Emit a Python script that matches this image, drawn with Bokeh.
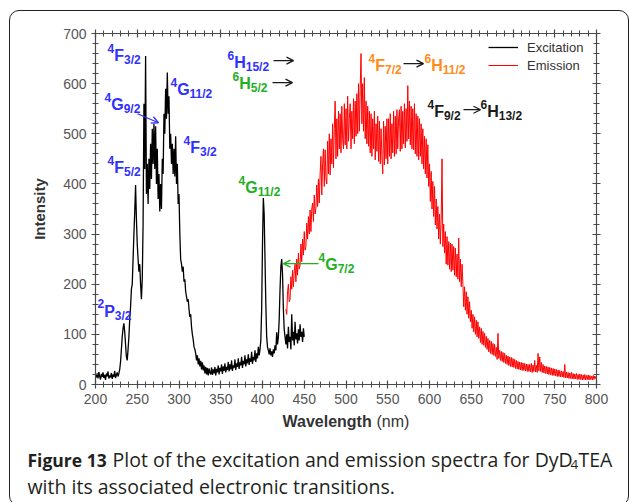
from bokeh.plotting import figure
from bokeh.layouts import column
from bokeh.models import (LinearAxis, Range1d, Label, Arrow, OpenHead, Legend,
                          LegendItem, SingleIntervalTicker, InlineStyleSheet)
from bokeh.core.properties import value
from bokeh.embed import file_html
from bokeh.resources import INLINE
import numpy as np

# ---------------- data ----------------
# Excitation spectrum, 200-450 nm in 1 nm steps
ex_start, ex_step = 200, 1
ex_intensity = [
    20, 14, 22, 12, 25, 16, 10, 21, 15, 24,
    13, 19, 9, 22, 16, 26, 12, 18, 14, 23,
    11, 20, 15, 27, 13, 19, 24, 16, 22, 30,
    45, 70, 95, 112, 122, 105, 80, 55, 48, 70,
    95, 130, 155, 190, 200, 250, 300, 345, 398, 330,
    280, 250, 225, 240, 200, 170, 210, 320, 560, 430,
    655, 380, 440, 360, 450, 390, 480, 410, 510, 440,
    520, 430, 515, 400, 470, 370, 420, 345, 400, 350,
    450, 420, 540, 500, 590, 530, 622, 540, 575, 470,
    500, 440, 480, 420, 470, 415, 495, 400, 440, 360,
    380, 300, 250, 240, 225, 235, 205, 210, 185, 175,
    165, 170, 150, 135, 140, 115, 100, 90, 75, 70,
    62, 48, 58, 40, 52, 36, 47, 30, 44, 28,
    38, 22, 35, 20, 33, 18, 32, 24, 20, 34,
    19, 30, 22, 35, 18, 31, 24, 38, 20, 33,
    26, 40, 21, 36, 27, 42, 24, 35, 29, 45,
    26, 40, 30, 48, 27, 38, 33, 50, 29, 42,
    35, 52, 31, 44, 38, 55, 33, 47, 40, 58,
    36, 50, 42, 60, 39, 52, 45, 65, 41, 55,
    48, 68, 45, 62, 52, 75, 58, 70, 88, 150,
    280, 372, 340, 250, 160, 95, 75, 68, 60, 72,
    58, 66, 55, 70, 62, 78, 68, 104, 80, 95,
    130, 190, 235, 250, 220, 150, 110, 95, 80, 100,
    72, 115, 85, 95, 70, 140, 88, 105, 78, 125,
    90, 102, 82, 110, 88, 120, 95, 105, 85, 112,
    95,
]

# Emission spectrum, 428-800 nm in 1 nm steps
em_start, em_step = 428, 1
em_intensity = [
    150, 140, 185, 200, 165, 170, 215, 190, 228, 195,
    225, 240, 205, 250, 218, 262, 230, 238, 280, 245,
    290, 258, 305, 268, 275, 322, 290, 335, 300, 348,
    305, 350, 362, 325, 378, 340, 352, 398, 355, 410,
    362, 420, 455, 378, 440, 470, 395, 468, 410, 400,
    485, 420, 500, 418, 490, 440, 520, 432, 510, 565,
    450, 530, 455, 545, 470, 540, 462, 555, 490, 470,
    560, 478, 550, 470, 575, 485, 530, 560, 470, 545,
    490, 570, 480, 565, 495, 580, 500, 600, 505, 590,
    660, 520, 600, 505, 612, 490, 565, 480, 555, 475,
    545, 462, 540, 455, 530, 470, 545, 448, 520, 465,
    535, 445, 525, 440, 510, 455, 420, 525, 438, 515,
    450, 530, 440, 530, 455, 540, 450, 520, 462, 545,
    455, 535, 460, 548, 470, 530, 548, 465, 555, 470,
    545, 480, 560, 472, 550, 485, 596, 490, 565, 478,
    555, 470, 550, 468, 560, 460, 540, 455, 535, 448,
    530, 455, 520, 440, 510, 430, 495, 420, 490, 412,
    478, 395, 440, 365, 425, 350, 405, 335, 395, 318,
    370, 310, 355, 290, 340, 280, 330, 450, 275, 320,
    262, 305, 240, 295, 238, 285, 230, 282, 225, 280,
    228, 275, 218, 272, 215, 260, 210, 292, 205, 250,
    195, 240, 200, 155, 195, 148, 185, 140, 175, 132,
    165, 125, 148, 112, 140, 105, 135, 100, 128, 95,
    125, 92, 115, 84, 112, 80, 106, 78, 102, 74,
    96, 70, 92, 65, 88, 62, 86, 60, 82, 58,
    80, 56, 74, 50, 102, 52, 68, 48, 66, 46,
    64, 44, 62, 42, 58, 40, 57, 38, 55, 36,
    54, 35, 52,
    34, 50, 32, 48, 31, 46, 30, 45, 29, 44,
    28, 43, 28, 42, 27, 41, 26, 40, 26,
    40, 25, 42, 24, 39, 26, 48, 25, 38, 24,
    62, 27, 55, 26, 44, 24, 40, 23, 37, 22,
    36, 21, 35, 20, 34, 19, 33, 18, 32, 18,
    31, 17, 30, 16, 29, 16, 28, 15, 27, 15,
    26, 14, 40, 13, 25, 13, 24, 12, 23, 12,
    24, 11, 22, 11, 21, 11, 22, 10, 20, 10,
    21, 10, 20, 9, 19, 10, 20, 9, 18, 10,
    19, 9, 18, 10, 17, 9, 18, 10, 17, 12,
    15,
]

ex_nm = ex_start + ex_step * np.arange(len(ex_intensity))
em_nm = em_start + em_step * np.arange(len(em_intensity))

x_ticks_interval = 50
y_ticks_interval = 100

W, H = 629, 502
CHART_H = 412          # chart part; the caption strip fills the rest
MID = 0.36             # half cap-height as a fraction of the font size

# ---------------- chart ----------------
p = figure(width=W, height=CHART_H, frame_width=501, frame_height=351,
           min_border_left=95, min_border_right=33, min_border_top=33,
           min_border_bottom=CHART_H - 33 - 351,
           x_range=Range1d(200, 800), y_range=Range1d(0, 700),
           output_backend="svg", toolbar_location=None,
           background_fill_color="white", border_fill_color="white")
p.frame_align = False
p.outline_line_color = None
p.xgrid.visible = False
p.ygrid.visible = False

AX_COL = "#4a4a4a"
TICK_FONT = "Liberation Sans"


def style_axis(ax, labels=True):
    ax.axis_line_color = AX_COL
    ax.axis_line_width = 1.2
    ax.major_tick_line_color = AX_COL
    ax.minor_tick_line_color = AX_COL
    ax.major_tick_line_width = 1.2
    ax.minor_tick_line_width = 1.0
    ax.major_tick_in = 4
    ax.major_tick_out = 4
    ax.minor_tick_in = 3
    ax.minor_tick_out = 3
    ax.major_label_text_font = TICK_FONT
    ax.major_label_text_font_size = "14px"
    ax.major_label_text_color = "#555555" if labels else None
    ax.major_label_standoff = 5


p.xaxis.ticker = SingleIntervalTicker(interval=x_ticks_interval, num_minor_ticks=5)
p.yaxis.ticker = SingleIntervalTicker(interval=y_ticks_interval, num_minor_ticks=5)
style_axis(p.xaxis[0])
style_axis(p.yaxis[0])
p.yaxis.axis_label = "Intensity"
p.yaxis.axis_label_text_font = TICK_FONT
p.yaxis.axis_label_text_font_style = "bold"
p.yaxis.axis_label_text_font_size = "15px"
p.yaxis.axis_label_text_color = "#333333"
p.yaxis.axis_label_standoff = 12

top_ax = LinearAxis(ticker=SingleIntervalTicker(interval=x_ticks_interval, num_minor_ticks=5))
right_ax = LinearAxis(ticker=SingleIntervalTicker(interval=y_ticks_interval, num_minor_ticks=5))
style_axis(top_ax, labels=False)
style_axis(right_ax, labels=False)
p.add_layout(top_ax, "above")
p.add_layout(right_ax, "right")

# ---------------- spectra ----------------
r_ex = p.line(ex_nm, ex_intensity, line_color="black", line_width=1.3)
r_em = p.line(em_nm, em_intensity, line_color="#ff0000", line_width=1.0)

legend = Legend(items=[LegendItem(label="Excitation", renderers=[r_ex]),
                       LegendItem(label="Emission", renderers=[r_em])],
                location=(393, 310), orientation="vertical",
                glyph_width=30, glyph_height=18, label_height=18,
                label_standoff=9, padding=0, spacing=0, margin=0,
                border_line_color=None, background_fill_alpha=0,
                label_text_font=TICK_FONT, label_text_font_size="13px",
                label_text_color="#333333")
p.add_layout(legend)

# ---------------- term-symbol labels ----------------
BLUE = "#3030ff"
GREEN = "#22b022"
ORANGE = "#ff8c1a"
BLACK = "#1a1a1a"
LBL_FONT = "Liberation Sans"
BIG, SMALL = 16, 12
ADV = {"F": 0.611, "G": 0.778, "H": 0.722, "P": 0.667, "/": 0.278}


def width(s, size):
    return sum(ADV.get(c, 0.556) for c in s) * size


def add_text(x, y, txt, color, size, dx=0, dy=0):
    # dy: baseline shift in pixels (up positive)
    p.add_layout(Label(x=x, y=y, x_offset=dx, y_offset=dy + MID * size,
                       text=txt, text_font=LBL_FONT, text_font_style="bold",
                       text_font_size=f"{size}px", text_color=color,
                       text_align="left", text_baseline="alphabetic"))


def term(x, y, mult, letter, j, color):
    """Spectroscopic term ^{mult}letter_{j} with its baseline at (x, y)."""
    add_text(x, y, mult, color, SMALL, 0, 9)
    dx = width(mult, SMALL)
    add_text(x, y, letter, color, BIG, dx, 0)
    dx += width(letter, BIG)
    add_text(x, y, j, color, SMALL, dx, -3)


def arrow(x0, y0, x1, y1, color):
    p.add_layout(Arrow(x_start=x0, y_start=y0, x_end=x1, y_end=y1,
                       line_color=color, line_width=1.3,
                       end=OpenHead(size=7, line_color=color, line_width=1.3)))


# excitation transitions
term(214.4, 644, "4", "F", "3/2", BLUE)
term(289.8, 576, "4", "G", "11/2", BLUE)
term(210.8, 546, "4", "G", "9/2", BLUE)
arrow(250.3, 540, 275.4, 522, BLUE)
term(305.4, 461, "4", "F", "3/2", BLUE)
term(214.4, 421, "4", "F", "5/2", BLUE)
term(202.4, 134, "2", "P", "3/2", BLUE)
term(358.1, 630, "6", "H", "15/2", BLUE)
arrow(413.2, 646, 437.1, 646, BLACK)
term(364.1, 588, "6", "H", "5/2", GREEN)
arrow(412.0, 602, 435.9, 602, BLACK)
term(371.3, 381, "4", "G", "11/2", GREEN)
term(467.1, 227, "4", "G", "7/2", GREEN)
arrow(467.1, 241, 425.1, 241, GREEN)

# emission transitions
term(527.0, 624, "4", "F", "7/2", ORANGE)
arrow(568.9, 640, 592.8, 640, BLACK)
term(594.0, 624, "6", "H", "11/2", ORANGE)
term(597.6, 532, "4", "F", "9/2", BLACK)
arrow(640.7, 548, 661.1, 548, BLACK)
term(661.1, 532, "6", "H", "13/2", BLACK)

# ---------------- caption strip (x-axis title + figure caption) ----------------
# coordinates in this strip are page pixels: x from the left, y from the top
cap = figure(width=W, height=H - CHART_H, x_range=Range1d(0, W),
             y_range=Range1d(H, CHART_H), x_axis_type=None, y_axis_type=None,
             output_backend="svg", toolbar_location=None,
             min_border_left=0, min_border_right=0, min_border_top=0,
             min_border_bottom=0,
             background_fill_color="white", border_fill_color="white")
cap.frame_align = False
cap.outline_line_color = None
cap.xgrid.visible = False
cap.ygrid.visible = False


def cap_text(x, y, s, font, size, bold=False, color="#333333"):
    # y is the text baseline in page pixels
    cap.text(x=[x], y=[y - MID * size], text=[s], text_font=value(font),
             text_font_size=f"{size}px",
             text_font_style="bold" if bold else "normal",
             text_color=color, text_align="left", text_baseline="alphabetic")


cap_text(282, 427, "Wavelength", TICK_FONT, 16, bold=True)
cap_text(376, 427, "(nm)", TICK_FONT, 16)

CAP_FONT = "Open Sans"
CAP_COL = "#231f20"
cap_text(27, 466, "Figure 13", CAP_FONT, 17.5, bold=True, color=CAP_COL)
cap_text(112, 466, "Plot of the excitation and emission spectra for DyD",
         CAP_FONT, 19.5, color=CAP_COL)
cap_text(570, 469, "4", CAP_FONT, 13.5, color=CAP_COL)
cap_text(578, 466, "TEA", CAP_FONT, 19.5, color=CAP_COL)
cap_text(27, 493, "with its associated electronic transitions.",
         CAP_FONT, 19.5, color=CAP_COL)

# rounded panel border drawn over the whole page
panel_css = InlineStyleSheet(css="""
:host { position: relative; overflow: hidden; }
:host::after {
  content: ""; position: absolute; left: 9px; top: 10px;
  width: 620px; height: 496px; box-sizing: border-box;
  border: 1.3px solid #222222; border-radius: 10px; pointer-events: none;
}
""")

page = column(p, cap, stylesheets=[panel_css])

open("out.html", "w").write(file_html(page, INLINE))
